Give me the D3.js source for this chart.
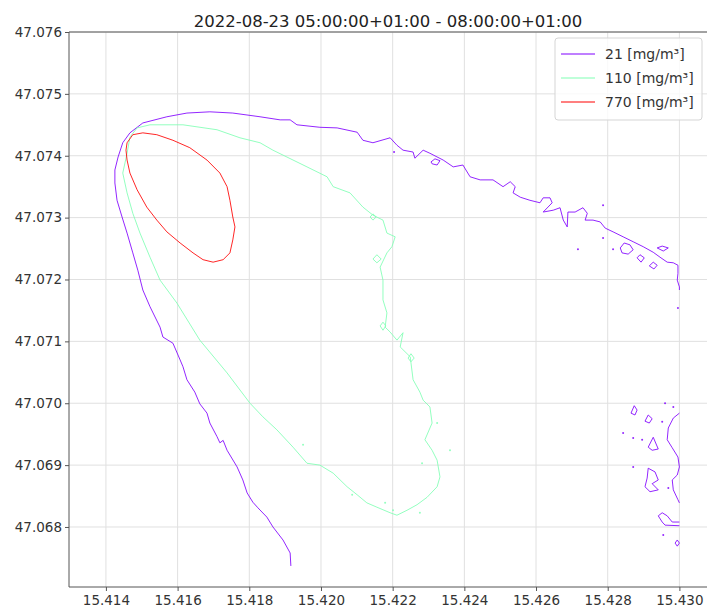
<!DOCTYPE html>
<html>
<head>
<meta charset="utf-8">
<script src="https://cdn.jsdelivr.net/npm/d3@7"></script>
<style>
  body { margin: 0; background: #fff; }
  svg { font-family: 'DejaVu Sans', sans-serif; }
</style>
</head>
<body>
<div id="chart"></div>
<script>
// contour lines, [lon, lat]
const titleText = '2022-08-23 05:00:00+01:00 - 08:00:00+01:00';
const xTicks = [15.414, 15.416, 15.418, 15.420, 15.422, 15.424, 15.426, 15.428, 15.430];
const yTicks = [47.068, 47.069, 47.070, 47.071, 47.072, 47.073, 47.074, 47.075, 47.076];
const levels = ['21 [mg/m\u00b3]', '110 [mg/m\u00b3]', '770 [mg/m\u00b3]'];
const levelColors = ['#8000ff', '#80ffb4', '#ff0000'];

// level 21, main open line
const purpleMain = [
  [15.41916, 47.06737], [15.41914, 47.06758], [15.41894, 47.06779], [15.41866, 47.06800],
  [15.41849, 47.06816], [15.41824, 47.06831], [15.41810, 47.06840], [15.41794, 47.06855],
  [15.41782, 47.06876], [15.41766, 47.06897], [15.41738, 47.06924], [15.41727, 47.06940],
  [15.41718, 47.06936], [15.41710, 47.06946], [15.41690, 47.06968], [15.41682, 47.06984],
  [15.41662, 47.06999], [15.41648, 47.07018], [15.41626, 47.07038], [15.41615, 47.07059],
  [15.41607, 47.07070], [15.41587, 47.07097], [15.41559, 47.07107], [15.41551, 47.07123],
  [15.41523, 47.07156], [15.41503, 47.07183], [15.41489, 47.07215], [15.41475, 47.07243],
  [15.41459, 47.07275], [15.41445, 47.07301], [15.41431, 47.07328], [15.41425, 47.07356],
  [15.41425, 47.07377], [15.41434, 47.07398], [15.41447, 47.07421], [15.41467, 47.07437],
  [15.41503, 47.07453], [15.41570, 47.07463], [15.41626, 47.07469], [15.41690, 47.07471],
  [15.41754, 47.07469], [15.41830, 47.07463], [15.41886, 47.07458], [15.41914, 47.07458],
  [15.41933, 47.07450], [15.41997, 47.07446], [15.42045, 47.07445], [15.42101, 47.07438],
  [15.42117, 47.07425], [15.42145, 47.07421], [15.42193, 47.07429], [15.42212, 47.07417],
  [15.42229, 47.07409], [15.42257, 47.07406], [15.42262, 47.07396], [15.42285, 47.07409],
  [15.42304, 47.07404], [15.42341, 47.07393], [15.42369, 47.07382], [15.42396, 47.07385],
  [15.42416, 47.07366], [15.42444, 47.07361], [15.42480, 47.07361], [15.42508, 47.07350],
  [15.42528, 47.07358], [15.42542, 47.07350], [15.42536, 47.07340], [15.42556, 47.07333],
  [15.42583, 47.07328], [15.42611, 47.07324], [15.42620, 47.07332], [15.42639, 47.07332],
  [15.42645, 47.07324], [15.42620, 47.07309], [15.42648, 47.07312], [15.42667, 47.07316],
  [15.42676, 47.07296], [15.42687, 47.07285], [15.42689, 47.07309], [15.42709, 47.07309],
  [15.42731, 47.07316], [15.42743, 47.07307], [15.42737, 47.07296], [15.42759, 47.07296],
  [15.42779, 47.07293], [15.42793, 47.07283], [15.42815, 47.07277], [15.42843, 47.07269],
  [15.42871, 47.07261], [15.42899, 47.07253], [15.42927, 47.07244], [15.42946, 47.07236],
  [15.42966, 47.07228], [15.42983, 47.07227], [15.42996, 47.07223], [15.42996, 47.07210],
  [15.42994, 47.07199], [15.43000, 47.07188], [15.43000, 47.07183]
];

// level 21, lines along the right edge
const purpleEdge = [
  [[15.43000, 47.06984], [15.42983, 47.06976], [15.42969, 47.06960], [15.42966, 47.06941],
   [15.42980, 47.06928], [15.42996, 47.06913], [15.43000, 47.06897], [15.42994, 47.06884],
   [15.42980, 47.06876], [15.42983, 47.06860], [15.42996, 47.06844], [15.43000, 47.06839]],
  [[15.43000, 47.06802], [15.42960, 47.06803], [15.42952, 47.06808], [15.42941, 47.06818],
   [15.42952, 47.06823], [15.42966, 47.06818], [15.42980, 47.06808], [15.43000, 47.06808]]
];

// level 21, small closed loops
const purpleLoops = [
  [[15.42307, 47.07390], [15.42318, 47.07395], [15.42332, 47.07392], [15.42324, 47.07385], [15.42310, 47.07387]],
  [[15.42835, 47.07251], [15.42846, 47.07259], [15.42862, 47.07256], [15.42871, 47.07248], [15.42857, 47.07241], [15.42840, 47.07243]],
  [[15.42882, 47.07235], [15.42890, 47.07240], [15.42902, 47.07235], [15.42893, 47.07228]],
  [[15.42916, 47.07222], [15.42927, 47.07228], [15.42938, 47.07223], [15.42929, 47.07217]],
  [[15.42938, 47.07251], [15.42952, 47.07254], [15.42969, 47.07251], [15.42955, 47.07246]],
  [[15.42865, 47.06984], [15.42874, 47.06996], [15.42882, 47.06989], [15.42876, 47.06981]],
  [[15.42904, 47.06971], [15.42913, 47.06981], [15.42924, 47.06975], [15.42916, 47.06968]],
  [[15.42913, 47.06929], [15.42927, 47.06945], [15.42941, 47.06926], [15.42924, 47.06924]],
  [[15.42913, 47.06895], [15.42932, 47.06889], [15.42941, 47.06876], [15.42924, 47.06870],
   [15.42941, 47.06860], [15.42918, 47.06857], [15.42904, 47.06865], [15.42910, 47.06879]],
  [[15.42988, 47.06774], [15.42994, 47.06779], [15.43000, 47.06774], [15.42994, 47.06769]]
];

// level 21, tiny islands
const purpleDots = [
  [15.42204, 47.07406], [15.42787, 47.07320], [15.42787, 47.07267], [15.42717, 47.07249],
  [15.42815, 47.07249], [15.42996, 47.07154], [15.42960, 47.07000], [15.42983, 47.06994],
  [15.42952, 47.06970], [15.42843, 47.06952], [15.42871, 47.06944], [15.42896, 47.06941],
  [15.42871, 47.06897], [15.42969, 47.06863], [15.42955, 47.06787]
];

// level 110, closed
const greenMain = [
  [15.41467, 47.07430], [15.41487, 47.07445], [15.41523, 47.07450], [15.41615, 47.07450],
  [15.41710, 47.07442], [15.41774, 47.07429], [15.41830, 47.07421], [15.41866, 47.07409],
  [15.41961, 47.07382], [15.42017, 47.07366], [15.42034, 47.07350], [15.42081, 47.07340],
  [15.42117, 47.07317], [15.42145, 47.07304], [15.42173, 47.07296], [15.42184, 47.07275],
  [15.42207, 47.07269], [15.42198, 47.07253], [15.42184, 47.07243], [15.42165, 47.07220],
  [15.42173, 47.07199], [15.42173, 47.07167], [15.42184, 47.07146], [15.42179, 47.07123],
  [15.42193, 47.07115], [15.42212, 47.07102], [15.42229, 47.07114], [15.42221, 47.07091],
  [15.42249, 47.07075], [15.42257, 47.07038], [15.42276, 47.07018], [15.42285, 47.07005],
  [15.42304, 47.06994], [15.42310, 47.06968], [15.42290, 47.06941], [15.42310, 47.06924],
  [15.42324, 47.06908], [15.42332, 47.06881], [15.42324, 47.06865], [15.42296, 47.06848],
  [15.42268, 47.06836], [15.42240, 47.06827], [15.42212, 47.06819], [15.42193, 47.06823],
  [15.42156, 47.06832], [15.42128, 47.06839], [15.42101, 47.06852], [15.42073, 47.06865],
  [15.42034, 47.06887], [15.41997, 47.06900], [15.41961, 47.06903], [15.41922, 47.06929],
  [15.41877, 47.06957], [15.41838, 47.06978], [15.41802, 47.07000], [15.41738, 47.07049],
  [15.41662, 47.07102], [15.41598, 47.07162], [15.41551, 47.07199], [15.41523, 47.07236],
  [15.41495, 47.07275], [15.41475, 47.07307], [15.41459, 47.07340], [15.41447, 47.07372],
  [15.41459, 47.07404]
];

const greenLoops = [
  [[15.42137, 47.07301], [15.42145, 47.07306], [15.42154, 47.07301], [15.42145, 47.07296]],
  [[15.42145, 47.07233], [15.42156, 47.07240], [15.42168, 47.07233], [15.42156, 47.07227]],
  [[15.42165, 47.07125], [15.42173, 47.07131], [15.42181, 47.07125], [15.42173, 47.07118]],
  [[15.42243, 47.07073], [15.42251, 47.07080], [15.42260, 47.07073], [15.42251, 47.07067]]
];

const greenDots = [
  [15.42087, 47.06852], [15.42179, 47.06839], [15.42201, 47.06827], [15.42276, 47.06823],
  [15.42324, 47.06968], [15.42360, 47.06924], [15.42282, 47.06903], [15.41950, 47.06933]
];

// level 770, closed
const redMain = [
  [15.41456, 47.07409], [15.41459, 47.07421], [15.41475, 47.07434], [15.41503, 47.07437],
  [15.41542, 47.07434], [15.41587, 47.07425], [15.41634, 47.07413], [15.41682, 47.07393],
  [15.41718, 47.07372], [15.41738, 47.07350], [15.41746, 47.07328], [15.41754, 47.07301],
  [15.41760, 47.07285], [15.41754, 47.07264], [15.41746, 47.07243], [15.41727, 47.07232],
  [15.41699, 47.07228], [15.41671, 47.07232], [15.41643, 47.07243], [15.41607, 47.07259],
  [15.41570, 47.07277], [15.41542, 47.07296], [15.41514, 47.07317], [15.41487, 47.07345],
  [15.41467, 47.07372], [15.41459, 47.07393]
];

const svgWidth = 707;
const svgHeight = 613;
const margin = { top: 32, right: 0, bottom: 26, left: 69 };
const width = svgWidth - margin.left - margin.right;
const height = svgHeight - margin.top - margin.bottom;

const svg = d3
  .select('#chart')
  .append('svg')
  .attr('width', svgWidth)
  .attr('height', svgHeight);

const x = d3.scaleLinear().domain([15.41297, 15.43077]).range([0, width]);
const y = d3.scaleLinear().domain([47.06703, 47.076]).range([height, 0]);

const g = svg.append('g').attr('transform', 'translate(' + margin.left + ',' + margin.top + ')');

// grid
g.append('g')
  .selectAll('line')
  .data(xTicks)
  .join('line')
  .attr('x1', d => x(d))
  .attr('x2', d => x(d))
  .attr('y1', 0)
  .attr('y2', height)
  .style('stroke', '#e0e0e0')
  .style('stroke-width', 1);

g.append('g')
  .selectAll('line')
  .data(yTicks)
  .join('line')
  .attr('x1', 0)
  .attr('x2', width)
  .attr('y1', d => y(d))
  .attr('y2', d => y(d))
  .style('stroke', '#e0e0e0')
  .style('stroke-width', 1);

g.append('clipPath')
  .attr('id', 'plot-clip')
  .append('rect')
  .attr('width', width)
  .attr('height', height);

const plot = g.append('g').attr('clip-path', 'url(#plot-clip)');

const line = d3.line().x(d => x(d[0])).y(d => y(d[1]));
const closed = d3.line().x(d => x(d[0])).y(d => y(d[1])).curve(d3.curveLinearClosed);

const drawLines = (paths, gen, color) => {
  plot.append('g')
    .selectAll('path')
    .data(paths)
    .join('path')
    .attr('d', gen)
    .style('fill', 'none')
    .style('stroke', color)
    .style('stroke-width', 1)
    .style('stroke-opacity', 0.85)
    .style('stroke-linejoin', 'round');
};

const drawDots = (pts, color) => {
  plot.append('g')
    .selectAll('circle')
    .data(pts)
    .join('circle')
    .attr('cx', d => x(d[0]))
    .attr('cy', d => y(d[1]))
    .attr('r', 1)
    .style('fill', color)
    .style('fill-opacity', 0.85);
};

drawLines([purpleMain].concat(purpleEdge), line, levelColors[0]);
drawLines(purpleLoops, closed, levelColors[0]);
drawDots(purpleDots, levelColors[0]);
drawLines([greenMain].concat(greenLoops), closed, levelColors[1]);
drawDots(greenDots, levelColors[1]);
drawLines([redMain], closed, levelColors[2]);

// axes
const xAxis = g.append('g')
  .attr('transform', 'translate(0,' + height + ')')
  .call(d3.axisBottom(x).tickValues(xTicks).tickFormat(d3.format('.3f')).tickSize(4).tickPadding(4));

const yAxis = g.append('g')
  .call(d3.axisLeft(y).tickValues(yTicks).tickFormat(d3.format('.3f')).tickSize(4).tickPadding(3));

[xAxis, yAxis].forEach(a => {
  a.select('.domain').remove();
  a.selectAll('line').style('stroke', '#555');
  a.selectAll('text')
    .style('font-family', "'DejaVu Sans', sans-serif")
    .style('font-size', '13.5px')
    .style('fill', '#333');
});

// spines: left, top, bottom
g.append('path')
  .attr('d', 'M' + width + ',0H0V' + height + 'H' + width)
  .style('fill', 'none')
  .style('stroke', '#555')
  .style('stroke-width', 1);

svg.append('text')
  .text(titleText)
  .attr('x', margin.left + width / 2)
  .attr('y', 27)
  .attr('text-anchor', 'middle')
  .style('font-size', '16.5px')
  .style('fill', '#222');

// legend
const legend = svg.append('g').attr('transform', 'translate(555,38)');

legend.append('rect')
  .attr('width', 147)
  .attr('height', 82)
  .attr('rx', 3)
  .style('fill', '#fff')
  .style('fill-opacity', 0.8)
  .style('stroke', '#d5d5d5');

const rows = legend.selectAll('g.row')
  .data(levels)
  .join('g')
  .attr('class', 'row')
  .attr('transform', (d, i) => 'translate(0,' + (16 + i * 24) + ')');

rows.append('line')
  .attr('x1', 6)
  .attr('x2', 40)
  .style('stroke', (d, i) => levelColors[i])
  .style('stroke-width', 1.2);

rows.append('text')
  .text(d => d)
  .attr('x', 50)
  .attr('y', 5)
  .style('font-size', '14px')
  .style('fill', '#333');
</script>
</body>
</html>
